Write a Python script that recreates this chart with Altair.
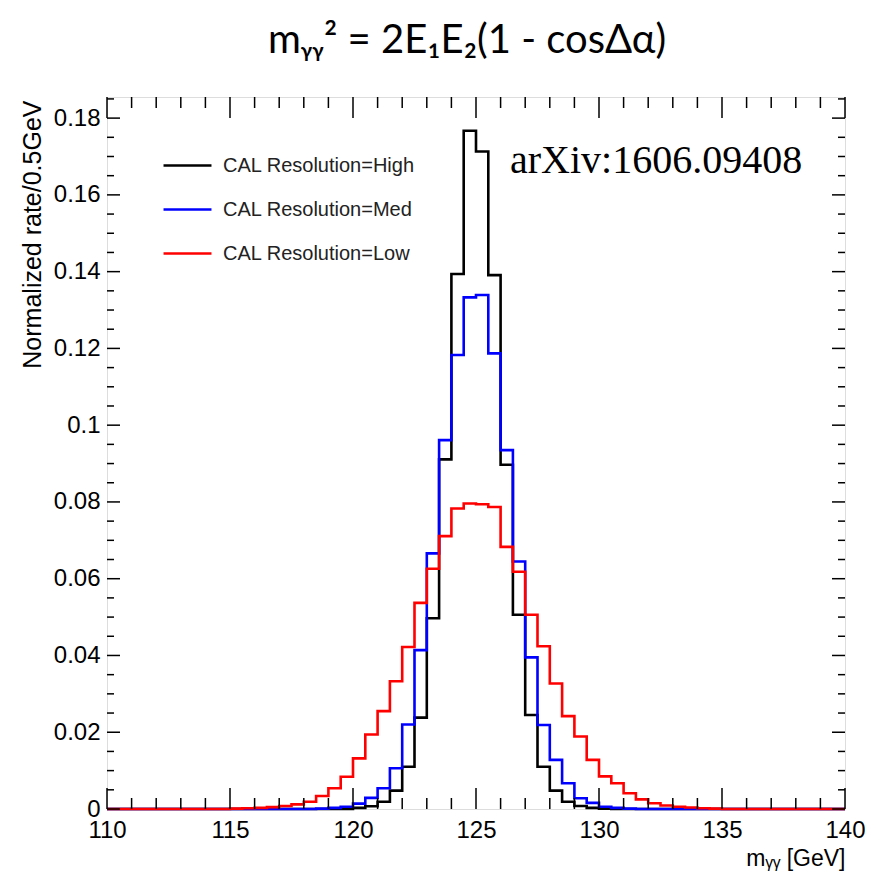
import altair as alt
import pandas as pd

# ---------------- data ----------------
series_names = ["CAL Resolution=High", "CAL Resolution=Med", "CAL Resolution=Low"]
series_colors = ["#000000", "#0000ff", "#ff0000"]

# bin lower edges 110.0 ... 139.5 (0.5 GeV bins), final edge 140
bin_edges = [110 + 0.5 * i for i in range(61)]

high = [0, 0, 0, 0, 0, 0, 0, 0, 0, 0,
        0, 0, 0, 0, 0, 0, 0, 0, 0, 0,
        0.0003, 0.0007, 0.0019, 0.0048, 0.0110, 0.0238, 0.0497, 0.0911, 0.1394, 0.1767,
        0.1713, 0.1391, 0.0897, 0.0506, 0.0245, 0.0110, 0.0048, 0.0019, 0.0008, 0.0003,
        0.0001, 0, 0, 0, 0, 0, 0, 0, 0, 0,
        0, 0, 0, 0, 0, 0, 0, 0, 0, 0]

med = [0, 0, 0, 0, 0, 0, 0, 0, 0, 0,
       0, 0, 0, 0, 0, 0, 0, 0.0001, 0.0003, 0.0006,
       0.0014, 0.0029, 0.0054, 0.0106, 0.0220, 0.0414, 0.0666, 0.0961, 0.1183, 0.1333,
       0.1339, 0.1187, 0.0935, 0.0645, 0.0395, 0.0219, 0.0128, 0.0067, 0.0028, 0.0016,
       0.0006, 0.0003, 0.0001, 0, 0, 0, 0, 0, 0, 0,
       0, 0, 0, 0, 0, 0, 0, 0, 0, 0]

low = [0, 0, 0, 0, 0, 0, 0, 0, 0, 0,
       0.0001, 0.0002, 0.0003, 0.0005, 0.0008, 0.0012, 0.0019, 0.0034, 0.0054, 0.0084,
       0.0132, 0.0194, 0.0255, 0.0333, 0.0422, 0.0537, 0.0626, 0.0711, 0.0783, 0.0796,
       0.0794, 0.0787, 0.0683, 0.0618, 0.0506, 0.0424, 0.0327, 0.0242, 0.0189, 0.0128,
       0.0085, 0.0067, 0.0041, 0.0025, 0.0015, 0.0009, 0.0006, 0.0004, 0.0002, 0.0001,
       0, 0, 0, 0, 0, 0, 0, 0, 0, 0]

x_major = [110, 115, 120, 125, 130, 135, 140]
x_minor = [111, 112, 113, 114, 116, 117, 118, 119, 121, 122, 123, 124,
           126, 127, 128, 129, 131, 132, 133, 134, 136, 137, 138, 139]
y_major = [0, 0.02, 0.04, 0.06, 0.08, 0.10, 0.12, 0.14, 0.16, 0.18]
y_minor = [0.005, 0.01, 0.015, 0.025, 0.03, 0.035, 0.045, 0.05, 0.055,
           0.065, 0.07, 0.075, 0.085, 0.09, 0.095, 0.105, 0.11, 0.115,
           0.125, 0.13, 0.135, 0.145, 0.15, 0.155, 0.165, 0.17, 0.175, 0.185]

title_text = "mᵧᵧ² = 2E₁E₂(1 - cosΔα)"
x_title = "mᵧᵧ [GeV]"
y_title = "Normalized rate/0.5GeV"
arxiv_label = "arXiv:1606.09408"

# ---------------- tables ----------------
rows = []
for name, vals in zip(series_names, [high, med, low]):
    for i, v in enumerate(vals):
        rows.append({"series": name, "x": bin_edges[i], "y": v})
    rows.append({"series": name, "x": bin_edges[-1], "y": vals[-1]})
hist = pd.DataFrame(rows)

W, H = 738, 712
FONT = "Liberation Sans"

x_scale = alt.Scale(domain=[110, 140], nice=False, zero=False)
y_scale = alt.Scale(domain=[0, 0.1855], nice=False)
color_scale = alt.Scale(domain=series_names, range=series_colors)

x_axis = alt.Axis(values=x_major, format="d", ticks=False, tickSize=0, domain=False,
                  grid=False, labelFont=FONT, labelFontSize=24, labelColor="black",
                  labelPadding=9, labelFlush=False, title=x_title, titleFont=FONT,
                  titleFontSize=23, titleFontWeight="normal", titleColor="black",
                  titleAlign="right", titleBaseline="alphabetic", titleX=W, titleY=56)
y_axis = alt.Axis(values=y_major, format="~g", ticks=False, tickSize=0, domain=False,
                  grid=False, labelFont=FONT, labelFontSize=24, labelColor="black",
                  labelPadding=7, title=y_title, titleFont=FONT, titleFontSize=25,
                  titleFontWeight="normal", titleColor="black", titleAngle=270,
                  titleAlign="right", titleBaseline="alphabetic", titleX=-67, titleY=3)

lines = alt.Chart(hist).mark_line(interpolate="step-after", strokeWidth=2.6).encode(
    x=alt.X("x:Q", scale=x_scale, axis=x_axis),
    y=alt.Y("y:Q", scale=y_scale, axis=y_axis),
    color=alt.Color("series:N", scale=color_scale, sort=series_names,
                    legend=alt.Legend(title=None, orient="none", legendX=55, legendY=43,
                                      symbolType="stroke", symbolSize=2300,
                                      symbolStrokeWidth=2.5, labelFont=FONT,
                                      labelFontSize=20, labelColor="#222222",
                                      labelLimit=0, labelOffset=10, rowPadding=8,
                                      padding=0)),
    detail="series:N",
)

def tick_layer(values, field, **enc):
    df = pd.DataFrame({field: values})
    ch = alt.Chart(df).mark_rule(color="black", strokeWidth=1.5)
    if field == "x":
        return ch.encode(x=alt.X("x:Q", scale=x_scale, axis=x_axis), **enc)
    return ch.encode(y=alt.Y("y:Q", scale=y_scale, axis=y_axis), **enc)

ticks = [
    tick_layer(x_major, "x", y=alt.value(H), y2=alt.value(H - 21)),
    tick_layer(x_major, "x", y=alt.value(0), y2=alt.value(21)),
    tick_layer(x_minor, "x", y=alt.value(H), y2=alt.value(H - 11)),
    tick_layer(x_minor, "x", y=alt.value(0), y2=alt.value(11)),
    tick_layer(y_major, "y", x=alt.value(0), x2=alt.value(13)),
    tick_layer(y_major, "y", x=alt.value(W), x2=alt.value(W - 13)),
    tick_layer(y_minor, "y", x=alt.value(0), x2=alt.value(7)),
    tick_layer(y_minor, "y", x=alt.value(W), x2=alt.value(W - 7)),
]

arxiv = alt.Chart(pd.DataFrame({"t": [arxiv_label]})).mark_text(
    align="left", baseline="alphabetic", font="Liberation Serif", fontSize=40, color="black"
).encode(text="t:N", x=alt.value(403), y=alt.value(76))

chart = alt.layer(lines, *ticks, arxiv).properties(
    width=W, height=H,
    title=alt.TitleParams(title_text, font="Lato", fontSize=40, fontWeight="normal",
                          color="black", anchor="middle", baseline="alphabetic",
                          offset=3, dx=-9),
    autosize=alt.AutoSizeParams(type="none"),
    padding={"left": 99, "top": 89, "right": 30, "bottom": 63},
).configure_view(stroke="black", strokeWidth=1.5).configure(background="white")

chart.save("out.html", embed_options={"renderer": "svg", "actions": False})
